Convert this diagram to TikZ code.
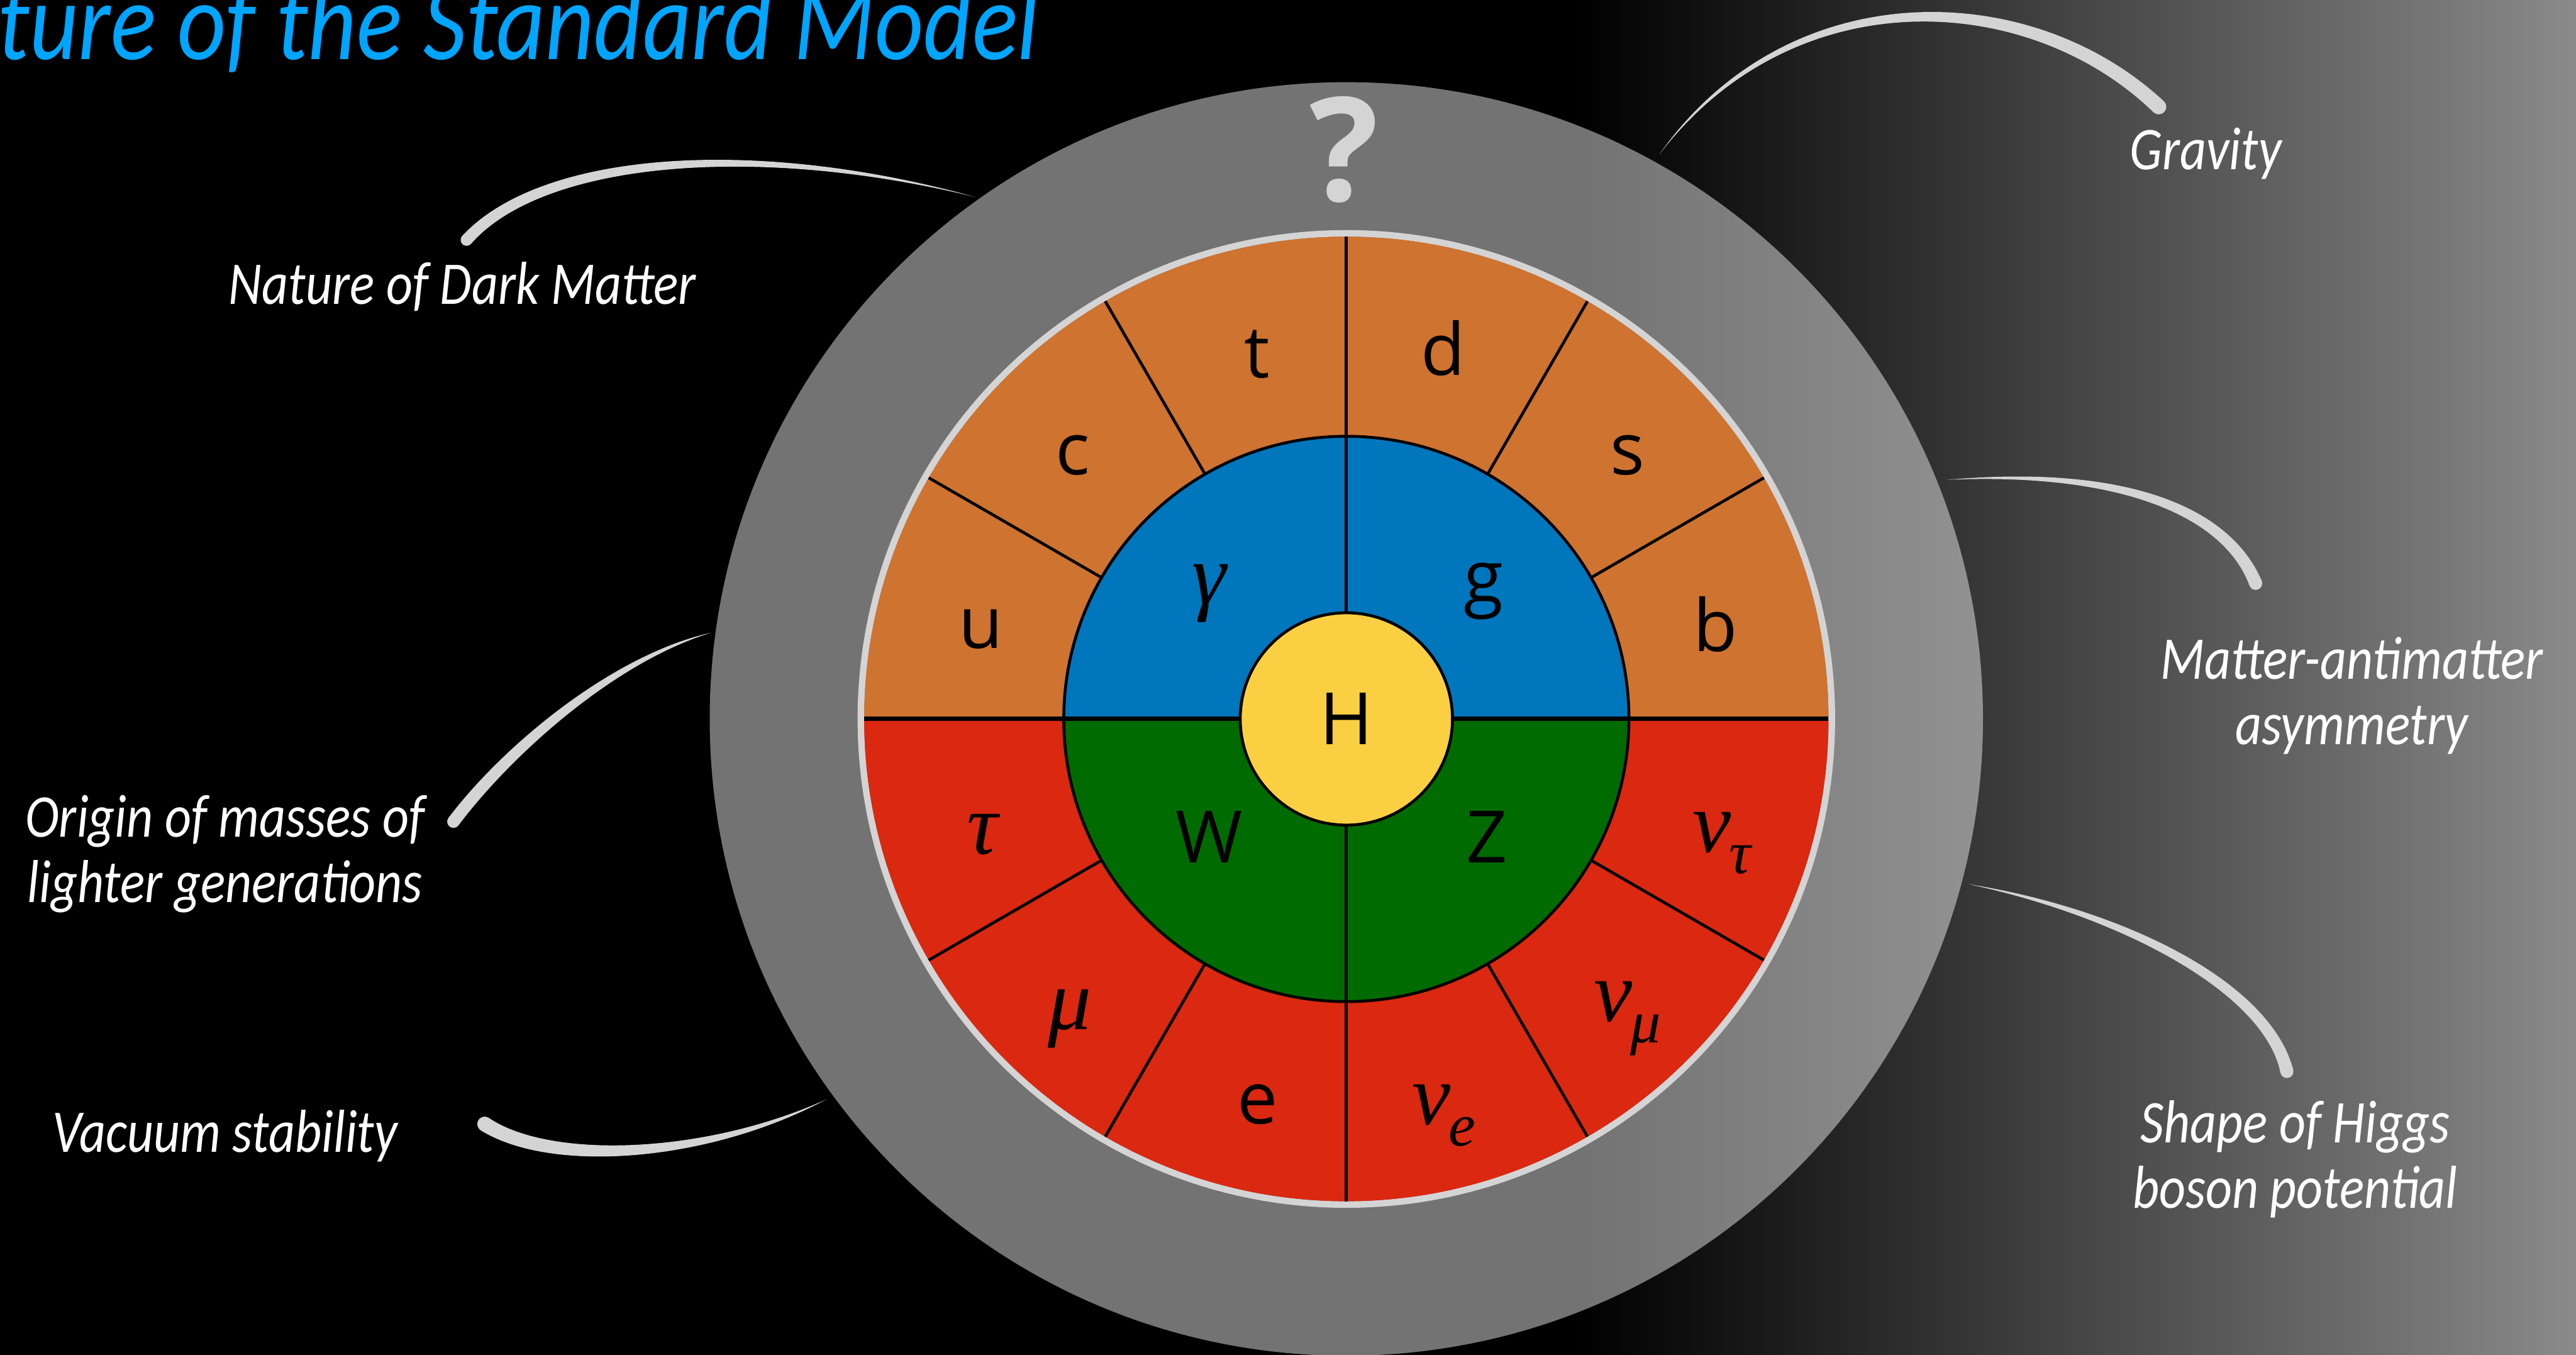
\documentclass[tikz,border=0pt]{standalone}
\usepackage{fontspec}
\usepackage{xcolor}
\usepackage{tikz}
\usetikzlibrary{calc}
\setmainfont{Carlito}
\newfontfamily\notefont[FakeStretch=0.85]{Carlito}
\newfontfamily\partfont{Open Sans}
\newfontfamily\greekfont{Liberation Serif}
\definecolor{bgRight}{HTML}{8A8A8A}
\definecolor{rimGrey}{HTML}{D4D4D4}
\definecolor{qOrange}{HTML}{CE7330}
\definecolor{lRed}{HTML}{DA2811}
\definecolor{gBlue}{HTML}{0076BC}
\definecolor{gGreen}{HTML}{006B00}
\definecolor{hYellow}{HTML}{FAD042}
\definecolor{titleBlue}{HTML}{00A5FF}
\tikzset{
  brush/.style={fill=rimGrey, draw=none},
  note/.style={text=white, font=\notefont\itshape\fontsize{10.5}{11.3}\selectfont,
    align=center, inner sep=0pt},
  part/.style={font=\partfont\fontsize{12.5}{12.5}\selectfont, inner sep=0pt},
  greek/.style={font=\greekfont\itshape\fontsize{15}{15}\selectfont, inner sep=0pt},
  sep/.style={draw=black, line width=0.5pt},
}
% tapered brush stroke: thick end, control, control, thin end, half width (cm)
\newcommand{\brushstroke}[5]{%
  \pgfmathsetmacro\bwmid{0.6*#5}%
  \fill[brush] ($(#1)!#5cm!90:(#2)$) .. controls ($(#2)!#5cm!90:(#3)$) and ($(#3)!\bwmid cm!90:(#4)$) .. (#4)
    .. controls ($(#3)!\bwmid cm!-90:(#4)$) and ($(#2)!#5cm!-90:(#3)$) .. ($(#1)!#5cm!-90:(#2)$) -- cycle;
  \fill[brush] (#1) circle[radius=#5];
}
\newcommand{\nusub}[1]{ν\kern-0.02em\raisebox{-0.13cm}{\fontsize{10.5}{10.5}\selectfont #1}}

\begin{document}
\begin{tikzpicture}
  \useasboundingbox (0,0) rectangle (15.68,-8.244);
  % background
  \fill[black] (0,0) rectangle (9.6,-8.244);
  \shade[left color=black, right color=bgRight] (9.6,0) rectangle (15.68,-8.244);
  \node[anchor=base west, text=titleBlue, font=\notefont\itshape\fontsize{19.3}{19.3}\selectfont, inner sep=0pt]
    (title) at (-0.02,-0.36) {ture of the Standard Model};

  % outer ring
  \coordinate (C) at (8.195,-4.375);
  \fill[white, fill opacity=0.45] (C) circle[radius=3.875];
  \node[text=rimGrey, font=\partfont\bfseries\fontsize{25}{25}\selectfont, inner sep=0pt] (qmark) at (8.18,-0.91) {?};
  \draw[rimGrey, line width=0.04cm] (C) circle[radius=2.955];

  % fermions
  \fill[qOrange] ($(C)+(2.935,0)$) arc[start angle=0, end angle=180, radius=2.935] -- cycle;
  \fill[lRed] ($(C)+(-2.935,0)$) arc[start angle=180, end angle=360, radius=2.935] -- cycle;
  % gauge bosons
  \filldraw[fill=gBlue, sep] ($(C)+(1.72,0)$) arc[start angle=0, end angle=180, radius=1.72] -- cycle;
  \filldraw[fill=gGreen, sep] ($(C)+(-1.72,0)$) arc[start angle=180, end angle=360, radius=1.72] -- cycle;
  \draw[sep] ($(C)+(30:1.72)$) -- ($(C)+(30:2.935)$);
  \draw[sep] ($(C)+(60:1.72)$) -- ($(C)+(60:2.935)$);
  \draw[sep] ($(C)+(120:1.72)$) -- ($(C)+(120:2.935)$);
  \draw[sep] ($(C)+(150:1.72)$) -- ($(C)+(150:2.935)$);
  \draw[sep] ($(C)+(210:1.72)$) -- ($(C)+(210:2.935)$);
  \draw[sep] ($(C)+(240:1.72)$) -- ($(C)+(240:2.935)$);
  \draw[sep] ($(C)+(300:1.72)$) -- ($(C)+(300:2.935)$);
  \draw[sep] ($(C)+(330:1.72)$) -- ($(C)+(330:2.935)$);
  \draw[sep] ($(C)+(90:0.6)$) -- ($(C)+(90:2.935)$);
  \draw[sep] ($(C)+(270:0.6)$) -- ($(C)+(270:2.935)$);
  \draw[black, line width=0.75pt] ($(C)+(180:2.935)$) -- ($(C)+(0:2.935)$);
  \node[circle, sep, fill=hYellow, minimum size=1.292cm, part] (hboson) at (C) {H};

  \node[part] (up) at (5.97,-3.83) {u};
  \node[part] (charm) at (6.53,-2.77) {c};
  \node[part] (top) at (7.65,-2.155) {t};
  \node[part] (down) at (8.785,-2.12) {d};
  \node[part] (strange) at (9.905,-2.77) {s};
  \node[part] (bottom) at (10.44,-3.80) {b};
  \node[greek] (photon) at (7.36,-3.61) {γ};
  \node[part] (gluon) at (9.03,-3.60) {g};
  \node[part] (wboson) at (7.36,-5.095) {W};
  \node[part] (zboson) at (9.05,-5.095) {Z};
  \node[greek] (tau) at (5.98,-5.08) {τ};
  \node[greek] (muon) at (6.51,-6.20) {μ};
  \node[part] (electron) at (7.655,-6.72) {e};
  \node[greek] (nue) at (8.79,-6.79) {\nusub{e}};
  \node[greek] (numu) at (9.905,-6.20) {\nusub{μ}};
  \node[greek] (nutau) at (10.48,-5.13) {\nusub{τ}};

  % open questions
  \node[note, anchor=base] (darkmatter) at (2.815,-1.85) {Nature of Dark Matter};
  \node[note, anchor=base] (gravity) at (13.425,-1.03) {Gravity};
  \node[note, anchor=base] (asym) at (14.315,-4.53) {Matter-antimatter\\asymmetry};
  \node[note, anchor=base] (masses) at (1.37,-5.49) {Origin of masses of\\lighter generations};
  \node[note, anchor=base] (vacuum) at (1.37,-7.01) {Vacuum stability};
  \node[note, anchor=base] (potential) at (13.97,-7.35) {Shape of Higgs\\boson potential};

  \brushstroke{2.84,-1.46}{3.3,-0.95}{4.6,-0.85}{5.94,-1.20}{0.036}
  \brushstroke{13.14,-0.65}{12.35,0.1}{10.9,0.15}{10.10,-0.94}{0.046}
  \brushstroke{13.73,-3.55}{13.55,-3.1}{12.9,-2.85}{11.85,-2.92}{0.04}
  \brushstroke{13.92,-6.52}{13.8,-6.0}{12.9,-5.55}{11.98,-5.38}{0.04}
  \brushstroke{2.76,-5.00}{3.1,-4.55}{3.75,-4.0}{4.33,-3.85}{0.038}
  \brushstroke{2.95,-6.84}{3.35,-7.1}{4.3,-7.05}{5.03,-6.69}{0.045}
\end{tikzpicture}
\end{document}
